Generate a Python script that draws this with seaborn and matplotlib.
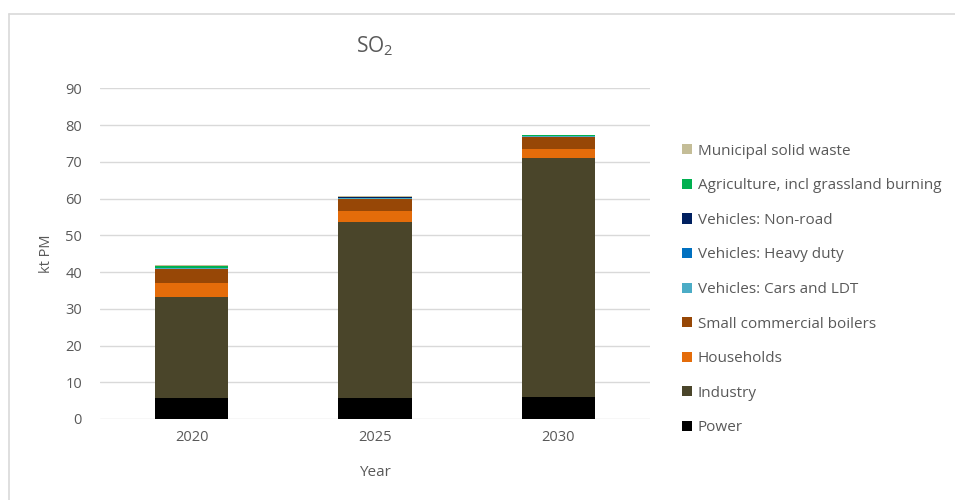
import matplotlib
matplotlib.use("Agg")
import matplotlib.pyplot as plt
from matplotlib.lines import Line2D
from matplotlib.patches import Patch
import numpy as np
import pandas as pd
import seaborn as sns

years = ["2020", "2025", "2030"]

# Sources, listed from the bottom of each stack upwards (kt)
sources = [
    "Power",
    "Industry",
    "Households",
    "Small commercial boilers",
    "Vehicles: Cars and LDT",
    "Vehicles: Heavy duty",
    "Vehicles: Non-road",
    "Agriculture, incl grassland burning",
    "Municipal solid waste",
]
power = [5.6, 5.6, 5.9]
industry = [27.7, 48.1, 65.2]
households = [3.8, 2.9, 2.5]
small_commercial = [3.7, 3.4, 3.1]
cars_ldt = [0.25, 0.1, 0.35]
heavy_duty = [0.1, 0.05, 0.05]
non_road = [0.05, 0.35, 0.05]
agriculture = [0.4, 0.05, 0.05]
municipal = [0.3, 0.15, 0.2]

series = [power, industry, households, small_commercial, cars_ldt,
          heavy_duty, non_road, agriculture, municipal]

colors = ["#000000", "#4A452A", "#E46C0A", "#974706", "#4BACC6",
          "#0070C0", "#002060", "#00B050", "#C4BD97"]

text_color = "#595959"
grid_color = "#D9D9D9"

sns.set_theme(style="white")
plt.rcParams["font.family"] = ["Open Sans", "DejaVu Sans"]
plt.rcParams["mathtext.default"] = "regular"

fig = plt.figure(figsize=(9.55, 5.0), dpi=100)
ax = fig.add_axes([100 / 955, 1 - 419 / 500, 550 / 955, (419 - 88.3) / 500])

# Stacked bars: draw cumulative totals from the top layer down
cum = np.cumsum(np.array(series), axis=0)
for i in range(len(sources) - 1, -1, -1):
    df = pd.DataFrame({"Year": years, "value": cum[i]})
    sns.barplot(data=df, x="Year", y="value", color=colors[i], width=0.4,
                saturation=1, ax=ax, edgecolor="none", linewidth=0, zorder=3)

ax.set_ylim(0, 90)
ax.set_yticks(range(0, 100, 10))
ax.grid(axis="y", color=grid_color, linewidth=1, zorder=0)
ax.grid(axis="x", visible=False)
for s in ax.spines.values():
    s.set_visible(False)
ax.tick_params(axis="both", length=0, colors=text_color, labelsize=10.5)
ax.tick_params(axis="y", pad=13)
ax.tick_params(axis="x", pad=8)
ax.set_xlabel("Year", color=text_color, fontsize=11, labelpad=14)
ax.set_ylabel("kt PM", color=text_color, fontsize=10.5, labelpad=8)
ax.set_title("SO$_2$", color=text_color, fontsize=15, pad=26)

handles = [Patch(facecolor=colors[i], edgecolor="none") for i in range(len(sources) - 1, -1, -1)]
labels = [sources[i] for i in range(len(sources) - 1, -1, -1)]
fig.legend(handles, labels, loc="upper left", bbox_to_anchor=(668 / 955, 1 - 130 / 500),
           frameon=False, fontsize=11, labelcolor=text_color, handlelength=0.65,
           handleheight=0.65, handletextpad=0.4, labelspacing=1.28)

# Chart frame edges
fig.add_artist(Line2D([9 / 955, 1.0], [1 - 13.5 / 500, 1 - 13.5 / 500], color=grid_color, lw=1.2))
fig.add_artist(Line2D([8.5 / 955, 8.5 / 955], [0, 1 - 13.5 / 500], color=grid_color, lw=1.2))

fig.savefig("out.png", dpi=100, facecolor="white")
